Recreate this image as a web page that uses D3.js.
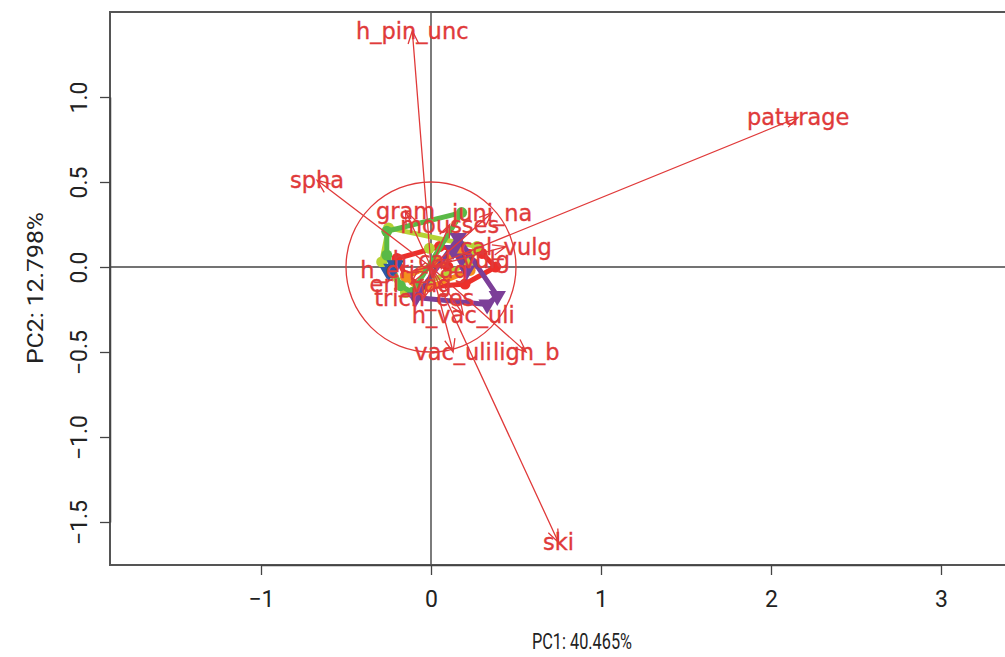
<!DOCTYPE html>
<html><head><meta charset="utf-8">
<script src="https://cdn.jsdelivr.net/npm/d3@7"></script>
<style>body{margin:0;background:#fff}</style>
</head><body><svg id="c" width="1005" height="657"></svg>
<script>
// Variable loadings (arrows)
const varNames = ["h_pin_unc","paturage","spha","ski","lign_b","vac_uli","h_vac_uli",
  "gram","juni_na","mousses","cal_vulg","h_cal_vulg","h_eri_vag","eri_vag","trich_ces"];
const varPC1 = [-0.11, 2.16, -0.67, 0.75, 0.56, 0.13, 0.19, -0.15, 0.36, 0.11, 0.44, 0.12, -0.10, -0.12, -0.04];
const varPC2 = [1.39, 0.88, 0.51, -1.62, -0.50, -0.50, -0.28, 0.33, 0.32, 0.25, 0.12, 0.04, -0.02, -0.10, -0.18];

// Site scores by group
const groupNames = ["g1","g2","g3","g4","g5","g6"];
const groupColors = ["#ec2f2a","#f5901e","#b6d335","#5ab947","#7c3f98","#2d56a6"];
const groupShapes = ["circle","circle","circle","circle","triangle","triangle"];
const siteGroup = [0,0,0,0,0,0,0,0,0, 1,1,1,1,1, 2,2,2,2,2,2, 3,3,3,3,3, 4,4,4,4,4,4,4, 5,5,5];
const sitePC1 = [-0.20,0.05,0.30,0.38,0.20,-0.05,-0.15,0.10,0.25,
  -0.15,0.17,0.23,-0.06,0.05,
  -0.25,0.27,0.22,-0.15,-0.29,-0.01,
  0.18,-0.26,-0.26,-0.18,-0.11,
  0.16,0.39,0.33,-0.09,0.18,0.21,0.13,
  -0.25,-0.23,-0.21];
const sitePC2 = [0.05,0.12,0.08,0.0,-0.10,-0.12,-0.05,0.0,0.02,
  -0.06,0.09,-0.02,-0.14,0.03,
  0.23,0.12,0.02,-0.15,0.03,0.11,
  0.32,0.21,0.07,-0.11,-0.15,
  0.17,-0.17,-0.22,-0.18,0.05,-0.02,0.10,
  -0.03,-0.01,0.01];

const xTicks = [-1,0,1,2,3];
const yTicks = [-1.5,-1.0,-0.5,0.0,0.5,1.0];
const axisTitles = ["PC1: 40.465%","PC2: 12.798%"];
const circleRadius = 0.5;

const svg = d3.select("#c");
const frameL = 110, frameT = 12, frameB = 565, frameR = 1005;
const x = d3.scaleLinear().domain([-1,3]).range([261,941]);
const y = d3.scaleLinear().domain([-1.5,1.0]).range([522,97]);
const red = "#e03a3a";
const axisFont = "Roboto, 'Open Sans', sans-serif";

svg.append("defs").append("clipPath").attr("id","pc")
  .append("rect").attr("x",frameL).attr("y",frameT).attr("width",frameR-frameL+20).attr("height",frameB-frameT);

const plot = svg.append("g").attr("clip-path","url(#pc)");

// zero reference lines
plot.append("line").attr("x1",frameL).attr("x2",frameR+20).attr("y1",y(0)).attr("y2",y(0))
  .attr("stroke","#444").attr("stroke-width",1.4);
plot.append("line").attr("x1",x(0)).attr("x2",x(0)).attr("y1",frameT).attr("y2",frameB)
  .attr("stroke","#444").attr("stroke-width",1.4);

// group hulls and points
groupNames.forEach((g,gi) => {
  const pts = [];
  siteGroup.forEach((s,i) => { if (s===gi) pts.push([x(sitePC1[i]), y(sitePC2[i])]); });
  const hull = pts.length >= 3 ? d3.polygonHull(pts) : null;
  if (hull) {
    plot.append("path").attr("d","M"+hull.join("L")+"Z")
      .attr("fill","none").attr("stroke",groupColors[gi]).attr("stroke-width",5)
      .attr("stroke-linejoin","round");
  }
  pts.forEach(p => {
    if (groupShapes[gi]==="triangle") {
      plot.append("path").attr("d", d3.symbol(d3.symbolTriangle, 130)())
        .attr("transform",`translate(${p[0]},${p[1]}) rotate(180)`)
        .attr("fill",groupColors[gi]);
    } else {
      plot.append("circle").attr("cx",p[0]).attr("cy",p[1]).attr("r",5.5).attr("fill",groupColors[gi]);
    }
  });
});

// correlation circle
plot.append("circle").attr("cx",x(0)).attr("cy",y(0)).attr("r",x(circleRadius)-x(0))
  .attr("fill","none").attr("stroke",red).attr("stroke-width",1.3);

// arrows
const headLen = 14, headAng = 22*Math.PI/180;
varNames.forEach((n,i) => {
  const x0 = x(0), y0 = y(0), x1 = x(varPC1[i]), y1 = y(varPC2[i]);
  const a = Math.atan2(y1-y0, x1-x0);
  const p1 = [x1 - headLen*Math.cos(a-headAng), y1 - headLen*Math.sin(a-headAng)];
  const p2 = [x1 - headLen*Math.cos(a+headAng), y1 - headLen*Math.sin(a+headAng)];
  plot.append("path")
    .attr("d",`M${x0},${y0}L${x1},${y1}M${p1[0]},${p1[1]}L${x1},${y1}L${p2[0]},${p2[1]}`)
    .attr("fill","none").attr("stroke",red).attr("stroke-width",1.3);
});
varNames.forEach((n,i) => {
  plot.append("text").attr("x",x(varPC1[i])).attr("y",y(varPC2[i]))
    .attr("text-anchor","middle").attr("dominant-baseline","central")
    .attr("font-family","DejaVu Sans, sans-serif").attr("font-size",22.5)
    .attr("fill",red).attr("stroke",red).attr("stroke-width",0.35).text(n);
});

// frame
svg.append("path").attr("d",`M${frameR+20},${frameT}H${frameL}V${frameB}H${frameR+20}`)
  .attr("fill","none").attr("stroke","#555").attr("stroke-width",2);

// axes
const ax = svg.append("g").attr("transform",`translate(0,${frameB})`)
  .call(d3.axisBottom(x).tickValues(xTicks).tickFormat(d3.format("d")).tickSize(10).tickSizeOuter(0).tickPadding(16));
ax.select(".domain").attr("stroke","#444").attr("stroke-width",1.5);
ax.selectAll(".tick line").attr("stroke","#444").attr("stroke-width",1.3);
ax.selectAll("text").attr("font-family",axisFont).attr("font-size",23).attr("fill","#222");

const ay = svg.append("g").attr("transform",`translate(${frameL},0)`)
  .call(d3.axisLeft(y).tickValues(yTicks).tickFormat(d3.format(".1f")).tickSize(10).tickSizeOuter(0));
ay.select(".domain").attr("stroke","#444").attr("stroke-width",1.5);
ay.selectAll(".tick line").attr("stroke","#444").attr("stroke-width",1.3);
ay.selectAll("text").attr("x",null).attr("dy",null)
  .attr("transform","translate(-23,0) rotate(-90)")
  .attr("text-anchor","middle")
  .attr("font-family",axisFont).attr("font-size",23).attr("fill","#222");

svg.append("text").attr("x",582).attr("y",649).attr("text-anchor","middle")
  .attr("font-family",axisFont).attr("font-size",22).attr("fill","#222")
  .attr("textLength",100).attr("lengthAdjust","spacingAndGlyphs").text(axisTitles[0]);
svg.append("text").attr("transform","translate(43,288) rotate(-90)").attr("text-anchor","middle")
  .attr("font-family",axisFont).attr("font-size",22).attr("fill","#222")
  .attr("textLength",152).attr("lengthAdjust","spacingAndGlyphs").text(axisTitles[1]);
</script></body></html>
